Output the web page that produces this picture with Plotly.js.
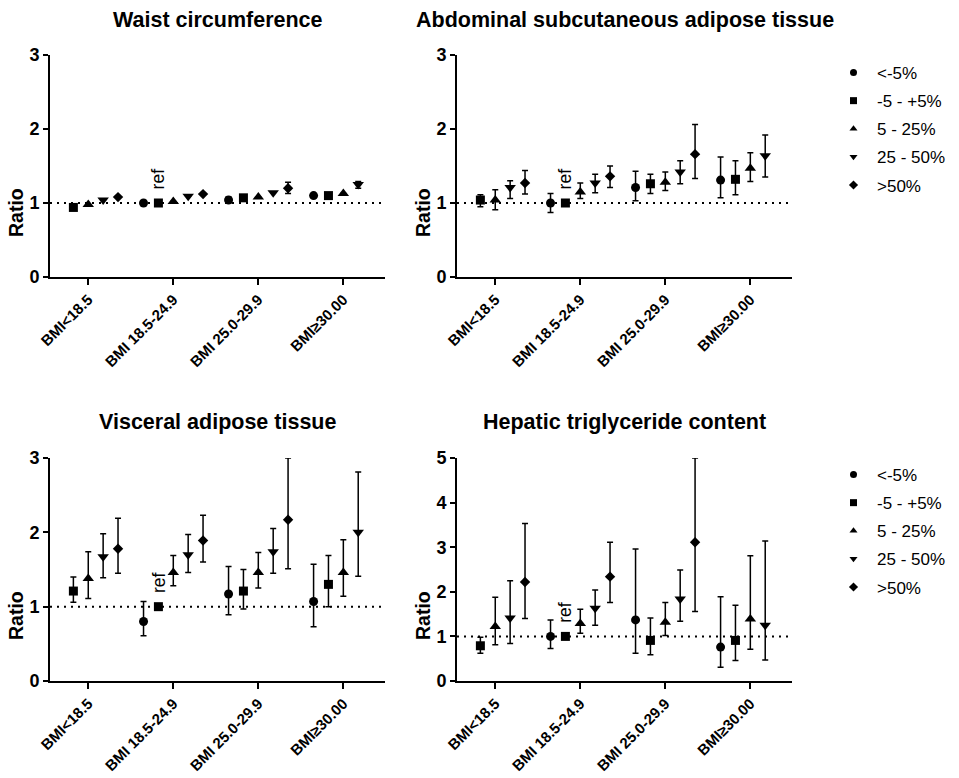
<!DOCTYPE html>
<html><head><meta charset="utf-8">
<script src="https://cdn.plot.ly/plotly-3.0.1.min.js"></script>
<style>body{margin:0;background:#fff}#chart{width:959px;height:778px}</style>
</head><body><div id="chart"></div>
<script>
// ---------- data ----------
const categories = ['BMI&lt;18.5', 'BMI 18.5-24.9', 'BMI 25.0-29.9', 'BMI≥30.00'];
const seriesNames = ['&lt;-5%', '-5 - +5%', '5 - 25%', '25 - 50%', '&gt;50%'];
const panelTitles = ['Waist circumference', 'Abdominal subcutaneous adipose tissue',
                     'Visceral adipose tissue', 'Hepatic triglyceride content'];
const yMax = [3, 3, 3, 5];

// rows = series (<-5%, -5-+5%, 5-25%, 25-50%, >50%), columns = BMI categories
const waistVal = [[null, 1.00, 1.04, 1.10], [0.94, 1.00, 1.07, 1.10], [0.98, 1.02, 1.08, 1.13], [1.04, 1.09, 1.14, 1.25], [1.08, 1.12, 1.20, null]];
const waistLo  = [[null, null, 1.00, null], [null, null, null, null], [null, null, null, null], [null, null, null, 1.20], [null, null, 1.13, null]];
const waistHi  = [[null, null, 1.08, null], [null, null, null, null], [null, null, null, null], [null, null, null, 1.29], [null, null, 1.28, null]];

const asatVal = [[null, 1.00, 1.21, 1.31], [1.04, 1.00, 1.26, 1.32], [1.04, 1.15, 1.28, 1.47], [1.21, 1.27, 1.42, 1.64], [1.27, 1.36, 1.66, null]];
const asatLo  = [[null, 0.87, 1.03, 1.07], [0.95, null, 1.13, 1.11], [0.91, 1.06, 1.17, 1.29], [1.06, 1.14, 1.26, 1.35], [1.12, 1.21, 1.33, null]];
const asatHi  = [[null, 1.13, 1.43, 1.62], [1.11, null, 1.39, 1.57], [1.18, 1.27, 1.42, 1.68], [1.30, 1.39, 1.57, 1.92], [1.44, 1.50, 2.06, null]];

const vatVal = [[null, 0.80, 1.17, 1.07], [1.21, 1.00, 1.21, 1.30], [1.38, 1.46, 1.46, 1.46], [1.67, 1.70, 1.74, 2.00], [1.78, 1.89, 2.17, null]];
const vatLo  = [[null, 0.61, 0.89, 0.73], [1.06, null, 0.97, 1.00], [1.11, 1.28, 1.25, 1.14], [1.39, 1.46, 1.45, 1.41], [1.45, 1.60, 1.51, null]];
const vatHi  = [[null, 1.07, 1.54, 1.57], [1.40, null, 1.50, 1.69], [1.74, 1.69, 1.73, 1.90], [1.98, 1.97, 2.05, 2.81], [2.19, 2.23, 3.00, null]];

const htgcVal = [[null, 1.00, 1.37, 0.76], [0.79, 1.00, 0.91, 0.91], [1.22, 1.29, 1.32, 1.39], [1.41, 1.63, 1.84, 1.25], [2.22, 2.34, 3.11, null]];
const htgcLo  = [[null, 0.73, 0.62, 0.31], [0.62, null, 0.59, 0.46], [0.81, 1.07, 1.02, 0.71], [0.84, 1.25, 1.34, 0.47], [1.40, 1.76, 1.56, null]];
const htgcHi  = [[null, 1.37, 2.96, 1.89], [0.98, null, 1.41, 1.70], [1.88, 1.61, 1.76, 2.81], [2.25, 2.04, 2.49, 3.14], [3.53, 3.11, 5.00, null]];

// ---------- styling ----------
const panels = [[waistVal, waistLo, waistHi], [asatVal, asatLo, asatHi], [vatVal, vatLo, vatHi], [htgcVal, htgcLo, htgcHi]];
const symbols = ['circle', 'square', 'triangle-up', 'triangle-down', 'diamond'];
const mSizes = [9, 9, 10, 10, 8];
const step = 0.175;
const FONT = 'Liberation Sans, Arial, Helvetica, sans-serif';
const W = 959, H = 778;
// plot boxes in pixels [left, right, top, bottom]
const boxes = [[50, 385, 55, 277], [457, 792, 55, 277], [50, 385, 458, 681], [457, 792, 458, 681]];

const traces = [];
const legendCommon = {xanchor: 'left', yanchor: 'top', font: {size: 17, family: FONT, color: '#000'},
                      tracegroupgap: 3, itemwidth: 37, bgcolor: 'rgba(0,0,0,0)'};
const layout = {
  width: W, height: H, margin: {l: 0, r: 0, t: 0, b: 0},
  paper_bgcolor: '#fff', plot_bgcolor: '#fff',
  font: {family: FONT, color: '#000'},
  showlegend: true,
  annotations: [], shapes: [],
  legend: Object.assign({x: 830 / W, y: 1 - 55 / H}, legendCommon),
  legend2: Object.assign({x: 830 / W, y: 1 - 457 / H}, legendCommon)
};

panels.forEach((pd, p) => {
  const [vals, los, his] = pd;
  const xa = p === 0 ? 'x' : 'x' + (p + 1);
  const ya = p === 0 ? 'y' : 'y' + (p + 1);
  const b = boxes[p];
  vals.forEach((row, s) => {
    const xs = row.map((_, c) => c + (s - 2) * step);
    const up = row.map((v, c) => (v == null || his[s][c] == null) ? null : his[s][c] - v);
    const dn = row.map((v, c) => (v == null || los[s][c] == null) ? null : v - los[s][c]);
    traces.push({
      type: 'scatter', mode: 'markers', xaxis: xa, yaxis: ya,
      x: xs, y: row, showlegend: false, cliponaxis: true,
      marker: {symbol: symbols[s], size: mSizes[s], color: '#000'},
      error_y: {type: 'data', symmetric: false, array: up, arrayminus: dn, color: '#000', thickness: 1.5, width: 3}
    });
  });
  const ax = {
    domain: [b[0] / W, b[1] / W], anchor: ya, range: [-0.45, 3.49],
    tickvals: [0, 1, 2, 3], ticktext: categories, tickangle: -45,
    ticks: 'outside', ticklen: 6, tickwidth: 2, tickcolor: '#000',
    showline: true, linewidth: 2, linecolor: '#000', showgrid: false, zeroline: false,
    tickfont: {size: 15, family: FONT, weight: 700, color: '#000'}, fixedrange: true
  };
  const yticks = [];
  for (let t = 0; t <= yMax[p]; t++) yticks.push(t);
  const ay = {
    domain: [1 - b[3] / H, 1 - b[2] / H], anchor: xa, range: [0, yMax[p]],
    tickvals: yticks, ticks: 'outside', ticklen: 5, tickwidth: 2, tickcolor: '#000',
    showline: true, linewidth: 2, linecolor: '#000', showgrid: false, zeroline: false,
    tickfont: {size: 18, family: FONT, weight: 700, color: '#000'}, fixedrange: true
  };
  layout[p === 0 ? 'xaxis' : 'xaxis' + (p + 1)] = ax;
  layout[p === 0 ? 'yaxis' : 'yaxis' + (p + 1)] = ay;
  // reference line at ratio 1
  layout.shapes.push({type: 'line', xref: xa + ' domain', yref: ya, x0: 0, x1: 1, y0: 1, y1: 1,
                      line: {color: '#000', width: 2, dash: '2px,5px'}});
  // panel title
  layout.annotations.push({xref: 'paper', yref: 'paper', x: (b[0] + b[1]) / 2 / W, y: 1 - (p < 2 ? 20 : 422) / H,
    text: panelTitles[p], showarrow: false, xanchor: 'center', yanchor: 'middle',
    font: {size: 21.5, family: FONT, weight: 700, color: '#000'}});
  // y axis title
  layout.annotations.push({xref: 'paper', yref: 'paper', x: (b[0] - 34) / W, y: 1 - (p < 2 ? 213 : 616) / H,
    text: 'Ratio', showarrow: false, textangle: -90, xanchor: 'center', yanchor: 'middle',
    font: {size: 19.5, family: FONT, weight: 700, color: '#000'}});
  // "ref" label above the reference group marker
  layout.annotations.push({xref: xa, yref: ya, x: 1 - step, y: 1, yshift: 24,
    text: 'ref', showarrow: false, textangle: -90, xanchor: 'center', yanchor: 'middle',
    font: {size: 17.5, family: FONT, color: '#000'}});
});

// legend entries (top legend for top row, legend2 for bottom row)
['legend', 'legend2'].forEach((lg, k) => {
  seriesNames.forEach((name, s) => {
    traces.push({
      type: 'scatter', mode: 'markers', xaxis: k === 0 ? 'x2' : 'x4', yaxis: k === 0 ? 'y2' : 'y4',
      x: [null], y: [null], name: name, legend: lg, legendgroup: lg + s, showlegend: true,
      marker: {symbol: symbols[s], size: 7, color: '#000'}
    });
  });
});

Plotly.newPlot('chart', traces, layout, {displayModeBar: false, staticPlot: true});
</script>
</body></html>
